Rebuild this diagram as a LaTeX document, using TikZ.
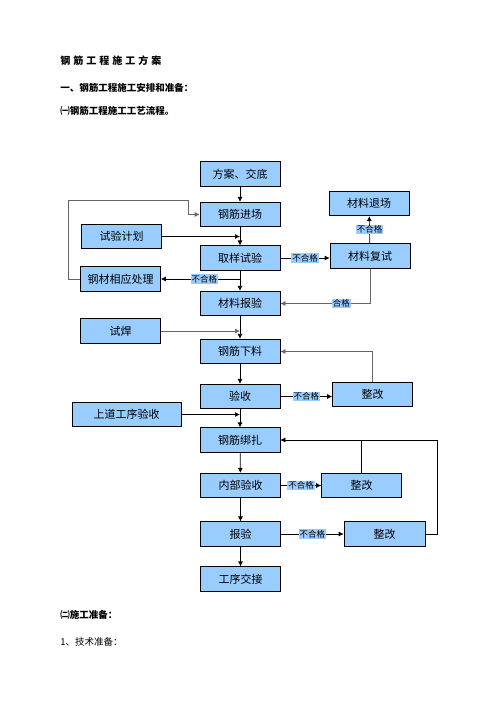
\documentclass[tikz,border=0pt]{standalone}
\usepackage{fontspec}
\newfontfamily\cjk{Noto Sans CJK SC}
\usepackage{tikz}
\usetikzlibrary{arrows,arrows.meta,positioning}
\definecolor{boxblue}{HTML}{99CCFF}

\tikzset{
  box/.style={draw, fill=boxblue, minimum width=80pt, minimum height=24.5pt, inner sep=0pt, font=\cjk\fontsize{11}{12}\selectfont},
  tag/.style={fill=boxblue, inner sep=0.8pt, font=\cjk\fontsize{8.5}{9}\selectfont},
  head/.style={anchor=west, inner sep=0pt, font=\cjk\bfseries\fontsize{9.5}{11}\selectfont},
  back/.style={draw=black!60},
}

\begin{document}
\begin{tikzpicture}[x=1pt, y=-1pt, >={Latex[length=5pt,width=5pt]}, line width=0.7pt]
\useasboundingbox (0,0) rectangle (496,702);
% headings
\node (title) [head, font=\cjk\bfseries\fontsize{10}{12}\selectfont\addfontfeature{LetterSpace=30}] at (60,61) {钢筋工程施工方案};
\node (sec1) [head] at (60,88) {一、钢筋工程施工安排和准备：};
\node (sub1) [head] at (60,111) {㈠钢筋工程施工工艺流程。};
\node (sub2) [head] at (60,615) {㈡施工准备：};
\node (tech) [head, font=\cjk\fontsize{9.5}{11}\selectfont] at (60,642) {1、技术准备：};
% main column
\node (plan) [box] at (240,174) {方案、交底};
\node (arrive) [box] at (240,214.5) {钢筋进场};
\node (sample) [box] at (240,258) {取样试验};
\node (report) [box] at (240,303.5) {材料报验};
\node (cut) [box] at (240,351.5) {钢筋下料};
\node (check) [box] at (240,396.5) {验收};
\node (bind) [box] at (240,440) {钢筋绑扎};
\node (inner) [box] at (240.5,485.5) {内部验收};
\node (inspect) [box] at (240.5,534) {报验};
\node (handover) [box] at (240.5,579) {工序交接};
% side boxes
\node (retest) [box] at (370,256) {材料复试};
\node (exit) [box] at (369,203.5) {材料退场};
\node (treat) [box] at (120.5,279) {钢材相应处理};
\node (testplan) [box] at (121.5,236.5) {试验计划};
\node (weld) [box] at (120.5,331) {试焊};
\node (fix1) [box] at (372.5,394.5) {整改};
\node (prev) [box, minimum width=109pt] at (126.5,414.5) {上道工序验收};
\node (fix2) [box] at (361.5,485.5) {整改};
\node (fix3) [box, minimum width=81pt] at (384.5,534) {整改};
\coordinate (turn) at (188,200);
% connectors
\draw[->] (plan) -- (arrive);
\draw[->] (arrive) -- (sample);
\draw[->] (sample) -- (report);
\draw[->] (sample.south |- treat.east) -- node[tag, pos=0.45] {不合格} (treat.east);
\draw[->] (sample.east) -- node[tag] {不合格} (sample.east -| retest.west);
\draw[->] (retest) -- node[tag] {不合格} (exit);
\draw[->, back] (retest.south) |- node[tag, pos=0.66] {合格} (report.east);
\draw[->, back] (treat.west) -- ++(-12,0) |- (turn) |- (arrive.west);
\draw[->] (testplan.east) -- (testplan.east -| arrive.south);
\draw[->] (report) -- (cut);
\draw[->, back] (weld.east) -- (weld.east -| cut.north);
\draw[->] (cut) -- (check);
\draw[->] (check.east) -- node[tag] {不合格} (check.east -| fix1.west);
\draw[->, back] (fix1.north) |- (cut.east);
\draw[->] (check) -- (bind);
\draw[->] (prev.east) -- (prev.east -| bind.north);
\draw[->] (bind) -- (inner);
\draw[->] (inner) -- node[tag] {不合格} (fix2);
\draw (fix2.north) -- (fix2.north |- bind.east);
\draw[->] (fix3.east) -- ++(12,0) |- (bind.east);
\draw[->] (inner) -- (inspect);
\draw[->] (inspect) -- node[tag] {不合格} (fix3);
\draw[->] (inspect) -- (handover);
\end{tikzpicture}
\end{document}
